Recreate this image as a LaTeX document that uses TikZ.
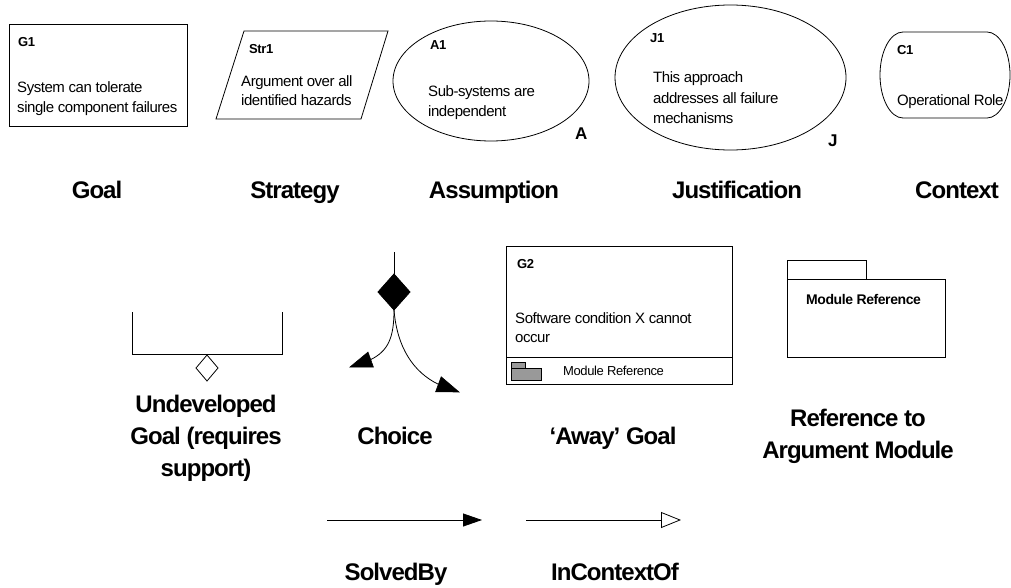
\documentclass[tikz,border=0pt]{standalone}
\usepackage{fontspec}
\setmainfont{Liberation Sans}
\newfontfamily\bodyfont[LetterSpace=-3]{Liberation Sans}
\newfontfamily\labelfont[LetterSpace=-4]{Liberation Sans}
\usetikzlibrary{arrows.meta}
\begin{document}
\begin{tikzpicture}[x=1pt,y=-1pt,
 shapeline/.style={draw=black, line width=0.8pt},
 body/.style={inner sep=0pt, anchor=base west, font=\bodyfont\fontsize{15}{18}\selectfont},
 smallbody/.style={inner sep=0pt, anchor=base west, font=\bodyfont\fontsize{13}{15}\selectfont},
 ident/.style={inner sep=0pt, anchor=base west, font=\bodyfont\bfseries\fontsize{13}{15}\selectfont},
 modtitle/.style={inner sep=0pt, anchor=base west, font=\bodyfont\bfseries\fontsize{14}{16}\selectfont},
 tag/.style={inner sep=0pt, anchor=base west, font=\bodyfont\bfseries\fontsize{17}{20}\selectfont},
 caption/.style={inner sep=0pt, anchor=base, font=\labelfont\bfseries\fontsize{24}{28}\selectfont},
 solved/.style={line width=0.8pt, -{Triangle[length=19pt,width=13pt]}},
 incontext/.style={line width=0.8pt, -{Triangle[open,length=20pt,width=16pt]}},
 headfill/.style={fill=black, draw=black, line width=0.6pt, line join=miter},
]
\useasboundingbox (0,0) rectangle (1011,588);

% ---------- Goal G1 ----------
\draw[shapeline] (9,24) rectangle (187,126);
\node[ident] (g1id) at (18,47) {G1};
\node[body] (g1a) at (17,93) {System can tolerate};
\node[body] (g1b) at (17,113) {single component failures};

% ---------- Strategy Str1 ----------
\draw[shapeline] (244,31) -- (388,31) -- (361,119) -- (216,119) -- cycle;
\node[ident] (s1id) at (249,54) {Str1};
\node[body] (s1a) at (241,87) {Argument over all};
\node[body] (s1b) at (241,106) {identified hazards};

% ---------- Assumption A1 ----------
\draw[shapeline] (491,81) ellipse [x radius=98, y radius=60];
\node[ident] (a1id) at (430,50) {A1};
\node[body] (a1a) at (428,96.5) {Sub-systems are};
\node[body] (a1b) at (428,116.5) {independent};
\node[tag] (atag) at (575,140) {A};

% ---------- Justification J1 ----------
\draw[shapeline] (730.5,77.5) ellipse [x radius=115.5, y radius=72.5];
\node[ident] (j1id) at (650,43) {J1};
\node[body] (j1a) at (653,83) {This approach};
\node[body] (j1b) at (653,103.5) {addresses all failure};
\node[body] (j1c) at (653,124) {mechanisms};
\node[tag] (jtag) at (828,147) {J};

% ---------- Context C1 ----------
\draw[shapeline] (903,32) -- (987,32)
  .. controls (999.7,32) and (1010,51.3) .. (1010,75)
  .. controls (1010,98.7) and (999.7,118) .. (987,118)
  -- (903,118)
  .. controls (890.3,118) and (880,98.7) .. (880,75)
  .. controls (880,51.3) and (890.3,32) .. (903,32) -- cycle;
\node[ident] (c1id) at (897,55) {C1};
\node[body] (c1a) at (897,106) {Operational Role};

% ---------- row captions ----------
\node[caption] (capgoal) at (97,198) {Goal};
\node[caption] (capstr) at (295,198) {Strategy};
\node[caption] (capass) at (494,198) {Assumption};
\node[caption] (capjus) at (737,198) {Justification};
\node[caption] (capctx) at (957,198) {Context};

% ---------- Undeveloped goal ----------
\draw[shapeline] (132,312) -- (132,354) -- (282,354) -- (282,312);
\draw[shapeline, fill=white] (207,355) -- (218,368) -- (207,381) -- (196,368) -- cycle;
\node[caption] (capund1) at (206,412) {Undeveloped};
\node[caption] (capund2) at (206,444) {Goal (requires};
\node[caption] (capund3) at (206,476) {support)};

% ---------- Choice ----------
\coordinate (chtop) at (394,252);
\coordinate (chd) at (394,274);
\coordinate (chb) at (394,310);
\coordinate (chlb) at (370.7,359.6);
\coordinate (chl) at (350,367);
\coordinate (chrb) at (438.4,384.3);
\coordinate (chr) at (459,392);
\draw[shapeline] (chtop) -- (chd);
\draw[fill=black, line width=0.8pt] (394,274) -- (410,292) -- (394,310) -- (378,292) -- cycle;
\draw[shapeline] (chb) .. controls (394,338) and (388,351) .. (chlb);
\draw[headfill] (chl) -- (373.4,367.1) -- (368.0,352.1) -- cycle;
\draw[shapeline] (chb) .. controls (397,347) and (413,372) .. (chrb);
\draw[headfill] (chr) -- (435.6,391.8) -- (441.2,376.8) -- cycle;
\node[caption] (capch) at (395,444) {Choice};

% ---------- Away goal ----------
\draw[shapeline] (506,246) rectangle (732,384);
\draw[shapeline] (506,357) -- (732,357);
\node[ident] (g2id) at (517,268) {G2};
\node[body] (g2a) at (515,323) {Software condition X cannot};
\node[body] (g2b) at (515,342) {occur};
\draw[line width=0.6pt, fill=black!40] (511,362) rectangle (525,368);
\draw[line width=0.6pt, fill=black!40] (511,368) rectangle (541,380);
\node[smallbody] (g2mod) at (563,375) {Module Reference};
\node[caption] (capaway) at (613,444) {‘Away’ Goal};

% ---------- Module reference ----------
\draw[shapeline] (787,260) rectangle (866,279);
\draw[shapeline] (787,279) rectangle (945,357);
\node[modtitle] (modt) at (806,304) {Module Reference};
\node[caption] (capref1) at (858,426) {Reference to};
\node[caption] (capref2) at (858,458) {Argument Module};

% ---------- Relationships ----------
\coordinate (sb1) at (327,520);
\coordinate (sb2) at (482,520);
\draw[solved] (sb1) -- (sb2);
\node[caption] (capsb) at (396,580) {SolvedBy};
\coordinate (ic1) at (526,520);
\coordinate (ic2) at (681,520);
\draw[incontext] (ic1) -- (ic2);
\node[caption] (capic) at (615,580) {InContextOf};
\end{tikzpicture}
\end{document}
